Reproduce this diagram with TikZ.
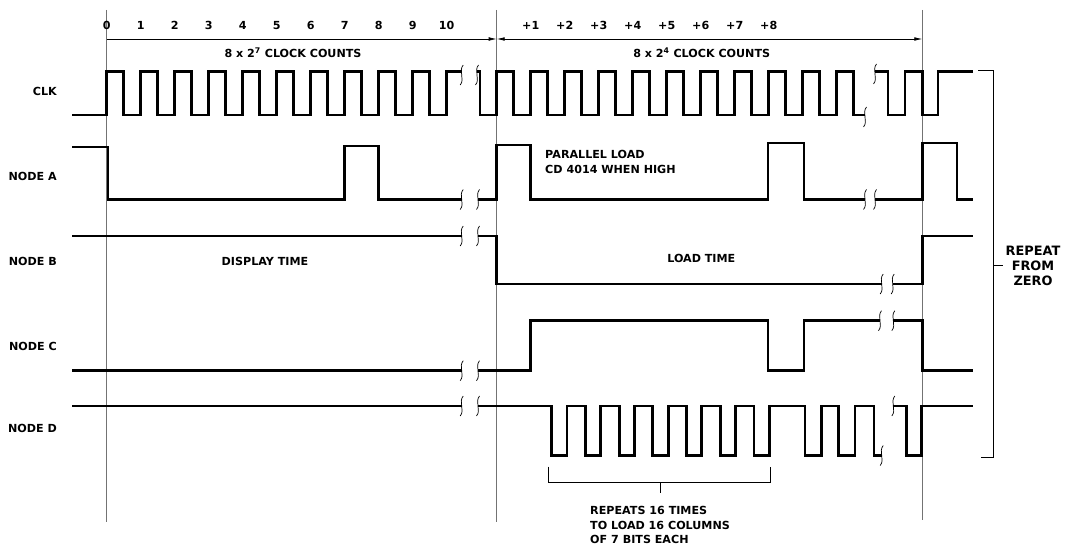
\documentclass[tikz,border=0pt]{standalone}
\usepackage{fontspec}
\setmainfont{DejaVu Sans}
\usetikzlibrary{arrows.meta}
\tikzset{
  wave/.style={black,line width=2.4pt},
  guide/.style={black!55,line width=0.5pt},
  dimline/.style={black,line width=0.6pt},
  brk/.style={black,line width=0.6pt},
  brace/.style={black,line width=0.7pt},
  lab/.style={font=\fontsize{9.5}{12.5}\selectfont\bfseries,inner sep=0pt},
  replab/.style={font=\fontsize{11}{12.5}\selectfont\bfseries,inner sep=0pt,align=center},
}
\newcommand{\gapmark}[2]{\draw[brk] ({#1+1.5},{#2-10}) .. controls ({#1-3.5},{#2-4}) and ({#1+3.5},{#2+4}) .. ({#1-1.5},{#2+10});}

\begin{document}
\begin{tikzpicture}[x=0.3mm,y=-0.3mm]
  \path[use as bounding box] (0,0) rectangle (1065,547);

  % time references
  \coordinate (g0t) at (106.5,10);  \coordinate (g0b) at (106.5,522);
  \coordinate (g1t) at (496.7,10);  \coordinate (g1b) at (496.7,522);
  \coordinate (g2t) at (922.3,10);  \coordinate (g2b) at (922.3,520);
  \draw[guide] (g0t) -- (g0b);
  \draw[guide] (g1t) -- (g1b);
  \draw[guide] (g2t) -- (g2b);

  \coordinate (d0) at (106.5,39);
  \coordinate (d1) at (496.7,39);
  \coordinate (d2) at (922.3,39);
  \draw[dimline,-{Latex[length=2.4mm,width=1.1mm]}] (d0) -- (d1);
  \draw[dimline,{Latex[length=2.4mm,width=1.1mm]}-{Latex[length=2.4mm,width=1.1mm]}] (d1) -- (d2);

  \foreach \n in {0,...,10}
    \node[lab,anchor=base] (c\n) at ({106.7+34*\n},29.2) {\n};
  \foreach \n in {1,...,8}
    \node[lab,anchor=base] (p\n) at ({496.7+34*\n},29.2) {+\n};
  \node[lab] (cnt1) at (293,53) {8 x 2\textsuperscript{7} CLOCK COUNTS};
  \node[lab] (cnt2) at (701.7,53) {8 x 2\textsuperscript{4} CLOCK COUNTS};

  \foreach \nm/\yy/\txt in {clk/91.7/CLK, na/176.7/NODE A, nb/261.7/NODE B,
                            nc/346.7/NODE C, nd/428/NODE D}
    \node[lab,anchor=east] (\nm) at (57,\yy) {\txt};

  % CLK
  \draw[wave] (72,115) \foreach \k in {0,...,9}{ -- ({106.7+34*\k},115) -- ({106.7+34*\k},71.5)
      -- ({123.7+34*\k},71.5) -- ({123.7+34*\k},115) } -- (446.7,115) -- (446.7,71.5) -- (461.7,71.5);
  \draw[wave] (477,71.5) -- (480,71.5) -- (480,115) \foreach \k in {0,...,9}{ -- ({496.7+34*\k},115)
      -- ({496.7+34*\k},71.5) -- ({513.7+34*\k},71.5) -- ({513.7+34*\k},115) }
      -- (836.7,115) -- (836.7,71.5) -- (853.7,71.5) -- (853.7,115) -- (865,115);
  \draw[wave] (875,71.5) -- (888,71.5) -- (888,115) -- (905,115) -- (905,71.5) -- (922.3,71.5)
      -- (922.3,115) -- (938,115) -- (938,71.5) -- (973,71.5);
  \gapmark{461.7}{75} \gapmark{477}{75} \gapmark{865}{117} \gapmark{875}{74}

  % NODE A
  \draw[wave] (72,147) -- (108,147) -- (108,199.5) -- (344.7,199.5) -- (344.7,146) -- (378.7,146)
      -- (378.7,199.5) -- (461.7,199.5);
  \draw[wave] (478,199.5) -- (496.7,199.5) -- (496.7,145) -- (530.7,145) -- (530.7,199.5) -- (768,199.5)
      -- (768,143) -- (804,143) -- (804,199.5) -- (865,199.5);
  \draw[wave] (875,199.5) -- (922.3,199.5) -- (922.3,143) -- (957,143) -- (957,199.5) -- (973,199.5);
  \gapmark{461.7}{199.5} \gapmark{478}{199.5} \gapmark{865}{199.5} \gapmark{875}{199.5}
  \node[lab,align=left,anchor=west] (par) at (545,161.7) {PARALLEL LOAD\\CD 4014 WHEN HIGH};

  % NODE B
  \draw[wave] (72,236) -- (461.7,236);
  \draw[wave] (478,236) -- (496.7,236) -- (496.7,284) -- (881.7,284);
  \draw[wave] (892.7,284) -- (922.3,284) -- (922.3,236) -- (973,236);
  \gapmark{461.7}{236} \gapmark{478}{236} \gapmark{881.7}{284} \gapmark{892.7}{284}
  \node[lab] (disp) at (265,261) {DISPLAY TIME};
  \node[lab] (load) at (701.3,258) {LOAD TIME};

  % NODE C
  \draw[wave] (72,370.7) -- (461.7,370.7);
  \draw[wave] (478,370.7) -- (530.7,370.7) -- (530.7,320.7) -- (768,320.7) -- (768,370.7) -- (804,370.7)
      -- (804,320.7) -- (880,320.7);
  \draw[wave] (893.3,320.7) -- (922.3,320.7) -- (922.3,370.7) -- (973,370.7);
  \gapmark{461.7}{370.7} \gapmark{478}{370.7} \gapmark{880}{320.7} \gapmark{893.3}{320.7}

  % NODE D
  \draw[wave] (72,406) -- (461.7,406);
  \draw[wave] (478,406) \foreach \k in {0,...,6}{ -- ({551.7+33.7*\k},406) -- ({551.7+33.7*\k},455.5)
      -- ({567+33.7*\k},455.5) -- ({567+33.7*\k},406) } -- (805,406) -- (805,455.5) -- (821.7,455.5)
      -- (821.7,406) -- (838.3,406) -- (838.3,455.5) -- (855,455.5) -- (855,406) -- (874,406)
      -- (874,455.5) -- (881.7,455.5);
  \draw[wave] (893.3,406) -- (906.7,406) -- (906.7,455.5) -- (921.7,455.5) -- (921.7,406) -- (973,406);
  \gapmark{461.7}{406} \gapmark{478}{406} \gapmark{881.7}{455.5} \gapmark{893.3}{406}

  % brackets
  \draw[brace] (548.3,466.7) -- (548.3,482.7) -- (770,482.7) -- (770,466.7);
  \coordinate (bt) at (660,482.7);
  \draw[brace] (bt) -- ++(0,10.6);
  \node[lab,align=left,anchor=west] (rpt) at (590,525) {REPEATS 16 TIMES\\TO LOAD 16 COLUMNS\\OF 7 BITS EACH};

  \draw[brace] (978,70) -- (993.3,70) -- (993.3,457) -- (981,457);
  \coordinate (rt) at (993.3,265);
  \draw[brace] (rt) -- ++(9.7,0);
  \node[replab] (rep) at (1033,266) {REPEAT\\FROM\\ZERO};
\end{tikzpicture}
\end{document}
